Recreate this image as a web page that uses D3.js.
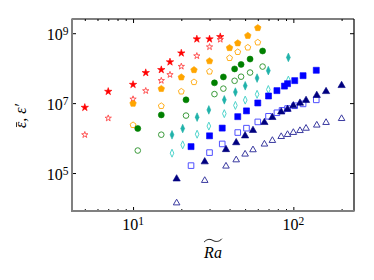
<!DOCTYPE html>
<html>
<head>
<meta charset="utf-8">
<script src="https://d3js.org/d3.v7.min.js"></script>
<style>
  body { margin: 0; background: #fff; }
  svg { font-family: "Liberation Serif", serif; }
  .tick line { stroke: #000; stroke-width: 1; }
  .domain { display: none; }
</style>
</head>
<body>
<svg width="374" height="280"></svg>
<script>
// values (log-log)
var raRed = [5, 7, 10, 12, 15, 17, 20, 25, 30, 35];
var epsRedFilled = [7.5e6, 2.15e7, 3.4e7, 7.4e7, 9.0e7, 1.5e8, 2.7e8, 6.8e8, 6.8e8, 7.9e8];
var epsRedOpen = [1.24e6, 3.7e6, 1.3e7, 2.25e7, 4.4e7, 6.5e7, 1.12e8, 2.24e8, 4.05e8, 6.6e8];

var raOrange = [10, 15, 20, 24, 30, 40, 45, 52, 60];
var epsOrangeFilled = [9.7e6, 2.57e7, 5.5e7, 8.9e7, 1.6e8, 3.8e8, 5.2e8, 8.5e8, 1.42e9];
var epsOrangeOpen = [2.36e6, 8.3e6, 2.15e7, 4.0e7, 8.0e7, 1.95e8, 2.9e8, 3.9e8, 5.45e8];

var raGreen = [10.7, 15, 21.4, 32.2, 36.6, 43, 47.2, 53.7, 64.3];
var epsGreenFilled = [1.88e6, 4.6e6, 1.24e7, 3.8e7, 5.6e7, 9.5e7, 1.28e8, 1.82e8, 3.1e8];
var epsGreenOpen = [4.4e5, 1.25e6, 4.4e6, 1.81e7, 2.6e7, 4.35e7, 5.7e7, 7.5e7, 1.11e8];

var raTeal = [17.5, 20.4, 25.1, 29.7, 37.1, 43.5, 50.1, 59.4, 69.8, 93.1];
var epsTealFilled = [1.24e6, 1.87e6, 3.97e6, 6.4e6, 1.24e7, 2.07e7, 3.13e7, 5.2e7, 8.5e7, 2.03e8];
var epsTealOpen = [3.7e5, 6.4e5, 1.29e6, 2.2e6, 5.0e6, 8.6e6, 1.22e7, 1.79e7, 2.45e7, 4.56e7];

var raBlueFilled = [23, 30, 36, 45, 51, 60, 70, 79, 88, 92, 102, 115, 139];
var epsBlueFilled = [5.7e5, 1.16e6, 1.93e6, 4.1e6, 6.0e6, 1.01e7, 1.6e7, 2.28e7, 3.07e7, 3.6e7, 4.4e7, 6.1e7, 8.7e7];
var raBlueOpen = [23, 30, 36, 45, 51, 60, 70, 79, 85, 92, 102, 115, 139];
var epsBlueOpen = [1.63e5, 3.84e5, 6.8e5, 1.44e6, 1.92e6, 2.9e6, 4.2e6, 5.3e6, 6.2e6, 7.0e6, 8.4e6, 9.5e6, 1.24e7];

var raNavy = [18.7, 28, 38, 44, 50, 56, 66, 74, 84, 92, 100, 110, 120, 140, 160, 200];
var epsNavyFilled = [6.8e4, 2.1e5, 4.7e5, 7.4e5, 1.16e6, 1.66e6, 2.8e6, 3.9e6, 5.6e6, 6.7e6, 8.4e6, 1.0e7, 1.2e7, 1.67e7, 2.15e7, 3.2e7];
var epsNavyOpen = [1.39e4, 6.1e4, 1.57e5, 2.37e5, 3.46e5, 4.6e5, 6.7e5, 8.5e5, 1.1e6, 1.26e6, 1.44e6, 1.63e6, 1.9e6, 2.34e6, 2.78e6, 3.6e6];

var xMajor = [10, 100];
var xMinor = [5, 6, 7, 8, 9, 20, 30, 40, 50, 60, 70, 80, 90, 200];
var yMajor = [1e5, 1e7, 1e9];

var svg = d3.select('svg');
var plotL = 72, plotR = 354, plotT = 19, plotB = 211;

var x = d3.scaleLog().domain([4.16, 239]).range([plotL, plotR]);
var y = d3.scaleLog().domain([8.2e3, 2.55e9]).range([plotB, plotT]);

function polygon(n, rx, ry) {
  var pts = d3.range(n).map(function(i) {
    var a = -Math.PI / 2 + i * 2 * Math.PI / n;
    return [rx * Math.cos(a), ry * Math.sin(a)];
  });
  return 'M' + pts.join('L') + 'Z';
}

var shapes = {
  star: function(r) { return d3.symbol(d3.symbolStar, r * r / 0.8908)(); },
  circle: function(r) { return d3.symbol(d3.symbolCircle, Math.PI * r * r)(); },
  square: function(r) { return d3.symbol(d3.symbolSquare, 4 * r * r)(); },
  triangle: function(r) { return d3.symbol(d3.symbolTriangle, 3 * Math.sqrt(3) * r * r)(); },
  pentagon: function(r) { return polygon(5, r, r); },
  thinDiamond: function(r) { return polygon(4, r * 0.45, r); }
};

var series = [
  {x: raRed, y: epsRedFilled, shape: 'star', r: 3.9, color: '#ff0000', filled: true},
  {x: raRed, y: epsRedOpen, shape: 'star', r: 3.3, color: '#ff5555', filled: false},
  {x: raOrange, y: epsOrangeFilled, shape: 'pentagon', r: 3.4, color: '#ffa500', filled: true},
  {x: raOrange, y: epsOrangeOpen, shape: 'pentagon', r: 3.1, color: '#ffb020', filled: false},
  {x: raGreen, y: epsGreenFilled, shape: 'circle', r: 3.0, color: '#008000', filled: true},
  {x: raGreen, y: epsGreenOpen, shape: 'circle', r: 2.8, color: '#3a9a3a', filled: false},
  {x: raTeal, y: epsTealFilled, shape: 'thinDiamond', r: 4.3, color: '#20b2aa', filled: true},
  {x: raTeal, y: epsTealOpen, shape: 'thinDiamond', r: 4.0, color: '#50d4cc', filled: false},
  {x: raBlueFilled, y: epsBlueFilled, shape: 'square', r: 3.0, color: '#0000ff', filled: true},
  {x: raBlueOpen, y: epsBlueOpen, shape: 'square', r: 2.8, color: '#5050ff', filled: false},
  {x: raNavy, y: epsNavyFilled, shape: 'triangle', r: 2.1, color: '#000080', filled: true},
  {x: raNavy, y: epsNavyOpen, shape: 'triangle', r: 1.9, color: '#3a3aa0', filled: false}
];

// axes with inward ticks
function addTicks(axis, pos, values, size) {
  svg.append('g')
    .attr('transform', pos)
    .call(axis.tickValues(values).tickSize(-size).tickFormat(''));
}
addTicks(d3.axisBottom(x), 'translate(0,' + plotB + ')', xMajor, 4);
addTicks(d3.axisBottom(x), 'translate(0,' + plotB + ')', xMinor, 2);
addTicks(d3.axisTop(x), 'translate(0,' + plotT + ')', xMajor, 4);
addTicks(d3.axisTop(x), 'translate(0,' + plotT + ')', xMinor, 2);
addTicks(d3.axisLeft(y), 'translate(' + plotL + ',0)', yMajor, 4);
addTicks(d3.axisRight(y), 'translate(' + plotR + ',0)', yMajor, 4);

// spines
svg.append('line').attr('x1', plotL).attr('x2', plotR).attr('y1', plotT).attr('y2', plotT)
  .attr('stroke', '#000').attr('stroke-width', 1.2);
svg.append('line').attr('x1', plotR).attr('x2', plotR).attr('y1', plotT).attr('y2', plotB)
  .attr('stroke', '#000').attr('stroke-width', 1.2);
svg.append('line').attr('x1', plotL).attr('x2', plotL).attr('y1', plotT - 0.6).attr('y2', plotB + 1)
  .attr('stroke', '#808080').attr('stroke-width', 2);
svg.append('line').attr('x1', plotL - 1).attr('x2', plotR + 0.6).attr('y1', plotB).attr('y2', plotB)
  .attr('stroke', '#808080').attr('stroke-width', 2);

// markers
series.forEach(function(s) {
  var pts = s.x.map(function(v, i) { return [v, s.y[i]]; });
  svg.append('g').selectAll('path')
    .data(pts)
    .enter()
    .append('path')
    .attr('transform', function(d) { return 'translate(' + x(d[0]) + ',' + y(d[1]) + ')'; })
    .attr('d', shapes[s.shape](s.r))
    .attr('fill', s.filled ? s.color : 'none')
    .attr('stroke', s.color)
    .attr('stroke-width', s.filled ? 0.6 : 1);
});

// tick labels
function powerLabel(sel, exp) {
  sel.append('tspan').text('10');
  sel.append('tspan').attr('font-size', 11.5).attr('dy', -4.5).text(exp);
}
xMajor.forEach(function(v) {
  svg.append('text')
    .attr('x', x(v)).attr('y', 229.5)
    .attr('text-anchor', 'middle')
    .attr('font-size', 16)
    .call(powerLabel, Math.round(Math.log10(v)));
});
yMajor.forEach(function(v) {
  svg.append('text')
    .attr('x', 68.5).attr('y', y(v) + 6.5)
    .attr('text-anchor', 'end')
    .attr('font-size', 16)
    .call(powerLabel, Math.round(Math.log10(v)));
});

// x label with wide tilde
var xl = svg.append('text')
  .attr('x', 213).attr('y', 257.5)
  .attr('text-anchor', 'middle')
  .attr('font-size', 16)
  .attr('font-style', 'italic')
  .text('Ra');
var b = xl.node().getBBox();
var tx0 = b.x + 1, tx1 = b.x + b.width, ty = 240.5;
var w = tx1 - tx0;
svg.append('path')
  .attr('d', 'M' + tx0 + ',' + (ty + 1.5) +
    'C' + (tx0 + w * 0.2) + ',' + (ty - 2) + ' ' + (tx0 + w * 0.35) + ',' + (ty - 1.5) + ' ' + (tx0 + w * 0.5) + ',' + ty +
    'S' + (tx0 + w * 0.85) + ',' + (ty + 1.5) + ' ' + tx1 + ',' + (ty - 1.8))
  .attr('fill', 'none').attr('stroke', '#000').attr('stroke-width', 0.9);

// y label
var yg = svg.append('g').attr('transform', 'translate(26,116) rotate(-90)');
var yl = yg.append('text')
  .attr('text-anchor', 'middle')
  .attr('font-size', 16)
  .attr('font-style', 'italic')
  .text('ε, ε′');
var ext = yl.node().getExtentOfChar(0);
yg.append('line')
  .attr('x1', ext.x + 1).attr('x2', ext.x + ext.width - 0.5)
  .attr('y1', -9.5).attr('y2', -9.5)
  .attr('stroke', '#000').attr('stroke-width', 0.8);
</script>
</body>
</html>
